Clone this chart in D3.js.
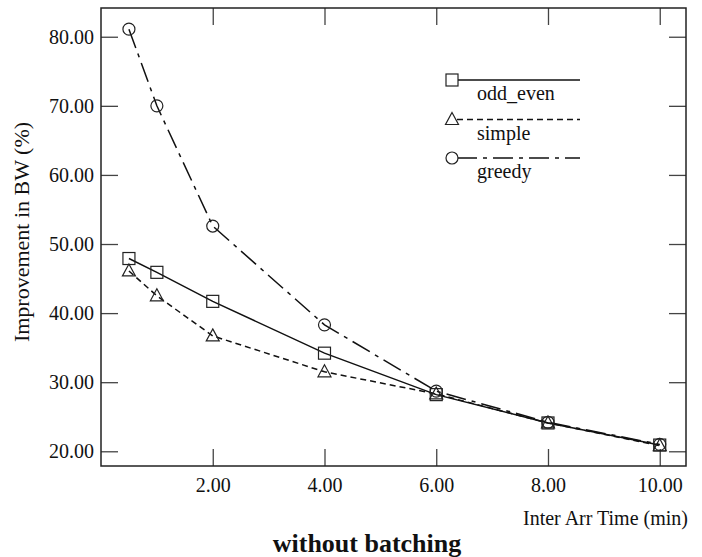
<!DOCTYPE html>
<html>
<head>
<meta charset="utf-8">
<script src="https://cdn.jsdelivr.net/npm/d3@7"></script>
<style>
  html, body { margin: 0; padding: 0; background: #fff; }
  svg text { font-family: "Liberation Serif", "DejaVu Serif", serif; fill: #111; }
</style>
</head>
<body>
<div class="chart"></div>
<script>
const width = 702
const height = 557

// data
const interArrTime = [0.5, 1, 2, 4, 6, 8, 10]
const oddEven = [47.9, 45.9, 41.7, 34.2, 28.2, 24.1, 20.9]
const simple = [46.1, 42.5, 36.7, 31.5, 28.3, 24.1, 20.8]
const greedy = [81.1, 70.0, 52.6, 38.3, 28.7, 24.2, 21.0]
const seriesNames = ['odd_even', 'simple', 'greedy']
const xTicks = [2, 4, 6, 8, 10]
const yTicks = [20, 30, 40, 50, 60, 70, 80]

const frame = { left: 101, right: 686, top: 8, bottom: 466 }

const x = d3.scaleLinear().domain([0, 10.47]).range([frame.left, frame.right])
const y = d3.scaleLinear().domain([17.87, 84.16]).range([frame.bottom, frame.top])

const svg = d3.select('div.chart')
  .append('svg')
  .attr('xmlns', 'http://www.w3.org/2000/svg')
  .attr('width', width)
  .attr('height', height)

const tickLen = 17

// inward ticks on all four sides
svg.append('g')
  .attr('transform', `translate(0,${frame.bottom})`)
  .call(d3.axisBottom(x).tickValues(xTicks).tickSize(-tickLen).tickFormat(d3.format('.2f')).tickPadding(12))
svg.append('g')
  .attr('transform', `translate(0,${frame.top})`)
  .call(d3.axisTop(x).tickValues(xTicks).tickSize(-tickLen).tickFormat(''))
svg.append('g')
  .attr('transform', `translate(${frame.left},0)`)
  .call(d3.axisLeft(y).tickValues(yTicks).tickSize(-tickLen).tickFormat(d3.format('.2f')).tickPadding(7))
svg.append('g')
  .attr('transform', `translate(${frame.right},0)`)
  .call(d3.axisRight(y).tickValues(yTicks).tickSize(-tickLen).tickFormat(''))

svg.selectAll('.domain').remove()
svg.selectAll('.tick line').attr('stroke', '#444').attr('stroke-width', 1.3)
svg.selectAll('.tick text')
  .attr('font-size', 20)
  .style('font-family', '"Liberation Serif", serif')
  .attr('fill', '#111')

svg.append('rect')
  .attr('x', frame.left)
  .attr('y', frame.top)
  .attr('width', frame.right - frame.left)
  .attr('height', frame.bottom - frame.top)
  .attr('fill', 'none')
  .attr('stroke', '#222')
  .attr('stroke-width', 1.5)

const styles = {
  odd_even: { values: oddEven, dash: null, marker: 'square' },
  simple: { values: simple, dash: '6,4', marker: 'triangle' },
  greedy: { values: greedy, dash: '20,6,4,6', marker: 'circle' },
}

const line = d3.line()
  .x(d => x(d[0]))
  .y(d => y(d[1]))

function drawMarker(g, type, cx, cy) {
  if (type === 'square') {
    g.append('rect')
      .attr('x', cx - 6).attr('y', cy - 6)
      .attr('width', 12).attr('height', 12)
  } else if (type === 'triangle') {
    g.append('path')
      .attr('d', `M${cx} ${cy - 7} L${cx + 6.5} ${cy + 5} L${cx - 6.5} ${cy + 5} Z`)
  } else {
    g.append('circle').attr('cx', cx).attr('cy', cy).attr('r', 6)
  }
}

seriesNames.forEach(name => {
  const s = styles[name]
  const pts = interArrTime.map((t, i) => [t, s.values[i]])

  svg.append('path')
    .datum(pts)
    .attr('d', line)
    .attr('fill', 'none')
    .attr('stroke', '#111')
    .attr('stroke-width', 1.5)
    .attr('stroke-dasharray', s.dash)

  const mg = svg.append('g')
    .attr('fill', 'none')
    .attr('stroke', '#222')
    .attr('stroke-width', 1.2)
  pts.forEach(p => drawMarker(mg, s.marker, x(p[0]), y(p[1])))
})

// legend
const legendY = [80, 119.5, 158]
seriesNames.forEach((name, i) => {
  const s = styles[name]
  const ly = legendY[i]
  svg.append('line')
    .attr('x1', 457).attr('x2', 580)
    .attr('y1', ly).attr('y2', ly)
    .attr('stroke', '#111')
    .attr('stroke-width', 1.5)
    .attr('stroke-dasharray', s.dash)
  const mg = svg.append('g')
    .attr('fill', '#fff')
    .attr('stroke', '#222')
    .attr('stroke-width', 1.2)
  drawMarker(mg, s.marker, 452, ly)
  svg.append('text')
    .attr('x', 477)
    .attr('y', ly + 20)
    .attr('font-size', 20)
    .text(name)
})

svg.append('text')
  .attr('transform', 'translate(29,232) rotate(-90)')
  .attr('text-anchor', 'middle')
  .attr('font-size', 22)
  .text('Improvement in BW (%)')

svg.append('text')
  .attr('x', 688)
  .attr('y', 525)
  .attr('text-anchor', 'end')
  .attr('font-size', 20)
  .text('Inter Arr Time (min)')

svg.append('text')
  .attr('x', 367)
  .attr('y', 552)
  .attr('text-anchor', 'middle')
  .attr('font-size', 26)
  .attr('font-weight', 'bold')
  .text('without batching')
</script>
</body>
</html>
